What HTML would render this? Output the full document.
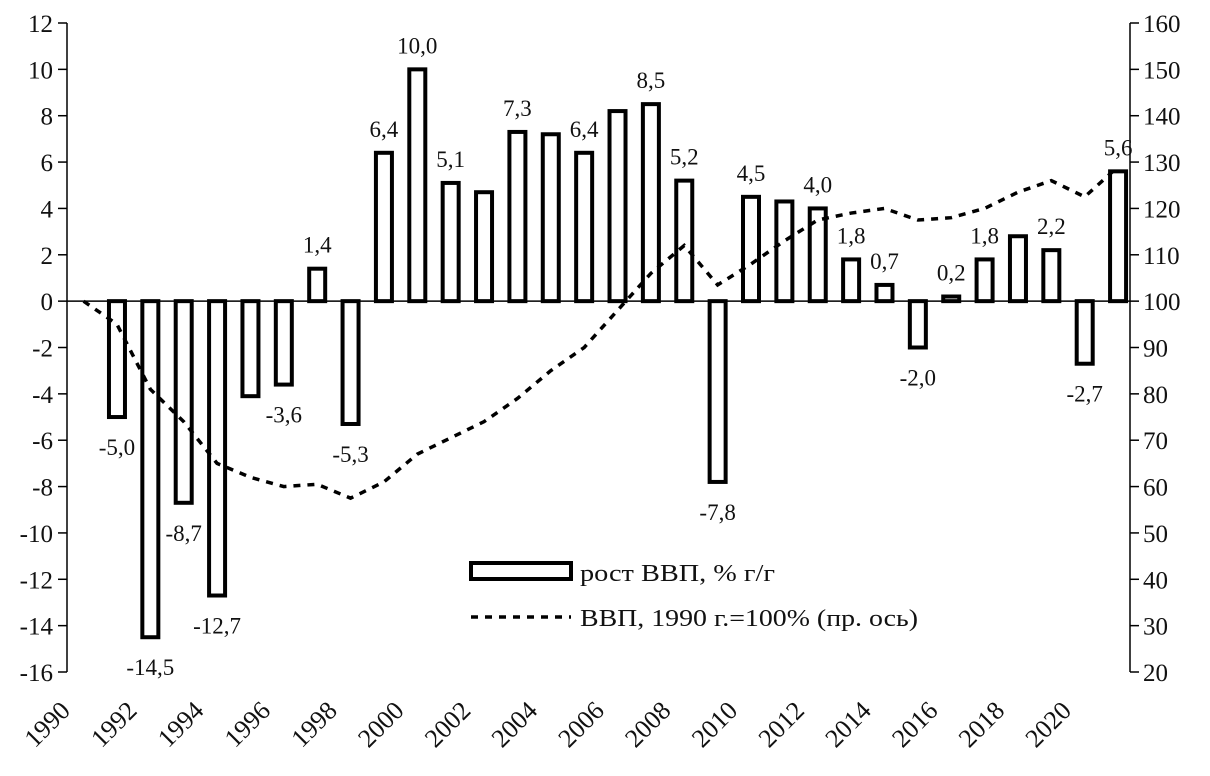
<!DOCTYPE html>
<html><head><meta charset="utf-8"><style>
html,body{margin:0;padding:0;background:#fff;}
svg text{font-family:"Liberation Serif",serif;fill:#111;}
</style></head><body>
<svg id="chart" width="1210" height="771" xmlns="http://www.w3.org/2000/svg"></svg>
<script>
const years = [1990,1991,1992,1993,1994,1995,1996,1997,1998,1999,2000,2001,2002,2003,2004,2005,2006,2007,2008,2009,2010,2011,2012,2013,2014,2015,2016,2017,2018,2019,2020,2021];
const growth = [null,-5.0,-14.5,-8.7,-12.7,-4.1,-3.6,1.4,-5.3,6.4,10.0,5.1,4.7,7.3,7.2,6.4,8.2,8.5,5.2,-7.8,4.5,4.3,4.0,1.8,0.7,-2.0,0.2,1.8,2.8,2.2,-2.7,5.6];
const showLabel = [false,true,true,true,true,false,true,true,true,true,true,true,false,true,false,true,false,true,true,true,true,false,true,true,true,true,true,true,false,true,true,true];
const gdpIndex = [100,95,81,74,65,62,60,60.5,57.5,61,67,70.5,74,79,85,90,98,106,112,103.5,108,113,117.5,119,120,117.5,118,120,123.5,126,122.5,129];
const leftTicks = [12,10,8,6,4,2,0,-2,-4,-6,-8,-10,-12,-14,-16];
const rightTicks = [160,150,140,130,120,110,100,90,80,70,60,50,40,30,20];
const xTickYears = [1990,1992,1994,1996,1998,2000,2002,2004,2006,2008,2010,2012,2014,2016,2018,2020];

const NS="http://www.w3.org/2000/svg";
const svg=document.getElementById('chart');
const X0=67,X1=1130,YT=23,YB=672;
const yL=v=>YT+(12-v)*(YB-YT)/28;
const yR=v=>YT+(160-v)*(YB-YT)/140;
const xY=y=>83.6+(y-1990)*33.37;
function el(t,a,txt){const e=document.createElementNS(NS,t);for(const k in a)e.setAttribute(k,a[k]);if(txt!==undefined)e.textContent=txt;svg.appendChild(e);return e;}
const fmt=v=>v.toFixed(1).replace('.',',');

let e;
e=el('line',{x1:X0,y1:YT,x2:X0,y2:YB,stroke:'#000','stroke-width':1.5});


e=el('line',{x1:X1,y1:YT,x2:X1,y2:YB,stroke:'#000','stroke-width':1.5});


leftTicks.forEach(v=>{
  el('line',{x1:X0-9,y1:yL(v),x2:X0,y2:yL(v),stroke:'#000','stroke-width':1.5});
  e=el('text',{x:X0-14,y:yL(v)+9,'text-anchor':'end','font-size':25},String(v));
  
  
});
rightTicks.forEach(v=>{
  el('line',{x1:X1,y1:yR(v),x2:X1+9,y2:yR(v),stroke:'#000','stroke-width':1.5});
  e=el('text',{x:X1+13,y:yR(v)+9,'text-anchor':'start','font-size':25},String(v));
  
  
});
xTickYears.forEach(y=>{
  const x=xY(y)-12, yy=712;
  e=el('text',{x:x,y:yy,'text-anchor':'end','font-size':26,transform:`rotate(-45 ${x} ${yy})`},String(y));
  
  
});
years.forEach((y,i)=>{
  const v=growth[i]; if(v===null)return;
  const x=xY(y), top=Math.min(yL(v),yL(0)), h=Math.abs(yL(v)-yL(0));
  e=el('rect',{x:x-8,y:top,width:16,height:h,fill:'#fff',stroke:'#000','stroke-width':4});
  
  
  if(showLabel[i]){
    const ly=v>=0?yL(v)-16:yL(v)+38;
    e=el('text',{x:x,y:ly,'text-anchor':'middle','font-size':23},fmt(v));
    
    
  }
});
e=el('line',{x1:X0,y1:yL(0),x2:X1,y2:yL(0),stroke:'#000','stroke-width':1.5});


const pts=years.map((y,i)=>xY(y)+','+yR(gdpIndex[i])).join(' ');
e=el('polyline',{points:pts,fill:'none',stroke:'#000','stroke-width':3.5,'stroke-dasharray':'7 7'});


e=el('rect',{x:471,y:563,width:100,height:16,fill:'#fff',stroke:'#000','stroke-width':4});


e=el('text',{x:580,y:581,'font-size':24,textLength:195,lengthAdjust:'spacingAndGlyphs'},'рост ВВП, % г/г');


e=el('line',{x1:471,y1:617,x2:571,y2:617,stroke:'#000','stroke-width':3.5,'stroke-dasharray':'7 7'});


e=el('text',{x:580,y:626,'font-size':24,textLength:338,lengthAdjust:'spacingAndGlyphs'},'ВВП, 1990 г.=100% (пр. ось)');


</script>
</body></html>
